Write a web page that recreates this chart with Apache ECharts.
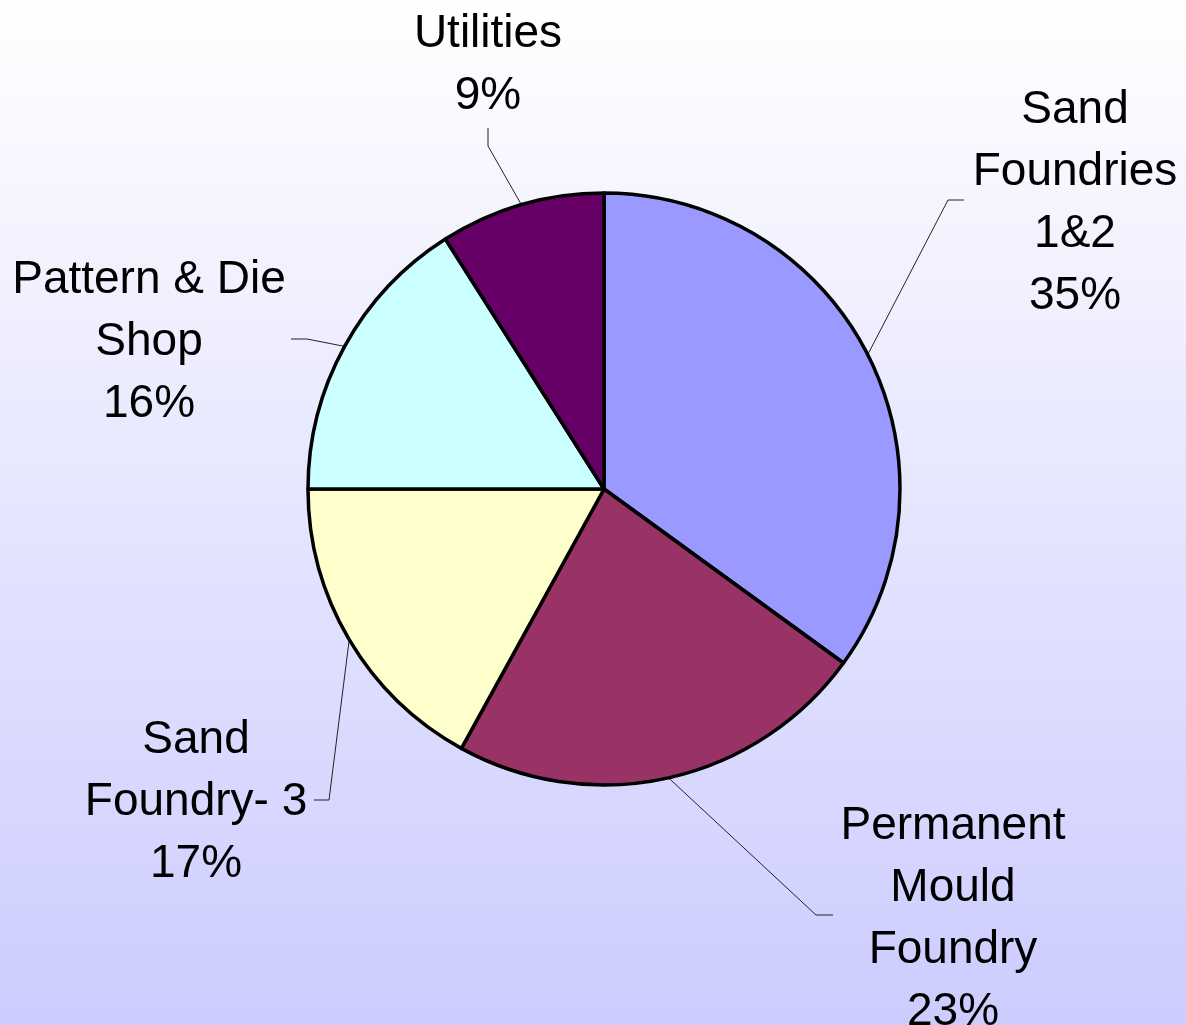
<!DOCTYPE html>
<html>
<head>
<meta charset="utf-8">
<title>Pie</title>
<script src="https://cdn.jsdelivr.net/npm/echarts@6/dist/echarts.min.js"></script>
<style>
  html, body { margin: 0; padding: 0; }
  #main { width: 1186px; height: 1025px; }
</style>
</head>
<body>
<div id="main"></div>
<script>
var categories = ['Sand\nFoundries\n1&2', 'Permanent\nMould\nFoundry', 'Sand\nFoundry- 3', 'Pattern & Die\nShop', 'Utilities'];
var shares = [35, 23, 17, 16, 9];
var colors = ['#9999FF', '#993366', '#FFFFCC', '#CCFFFF', '#660066'];

// where each label sits and how its leader line bends (layout only)
var labelPos = [
    { x: 1075, y: 203, bend: [948, 200], tip: [964, 200] },
    { x: 953,  y: 919, bend: [816, 915], tip: [833, 915] },
    { x: 196,  y: 802, bend: [329, 800], tip: [314, 800] },
    { x: 149,  y: 342, bend: [307, 339], tip: [291, 339] },
    { x: 488,  y: 65,  bend: [488, 146], tip: [488, 128] }
];

var myChart = echarts.init(document.getElementById('main'));

var pieData = categories.map(function (name, i) {
    return { name: name, value: shares[i], itemStyle: { color: colors[i] } };
});

var option = {
    animation: false,
    backgroundColor: {
        type: 'linear', x: 0, y: 0, x2: 0, y2: 1,
        colorStops: [
            { offset: 0, color: '#FFFFFF' },
            { offset: 1, color: '#CCCCFF' }
        ]
    },
    series: [
        {
            type: 'pie',
            center: [604, 489],
            radius: 296,
            startAngle: 90,
            clockwise: true,
            avoidLabelOverlap: false,
            data: pieData,
            itemStyle: {
                borderColor: '#000',
                borderWidth: 3.5
            },
            label: {
                show: true,
                position: 'outside',
                formatter: function (p) {
                    return p.name + '\n' + p.value + '%';
                },
                fontFamily: '"Liberation Sans", Arial, sans-serif',
                fontSize: 46,
                lineHeight: 62,
                color: '#000'
            },
            labelLine: {
                show: true,
                smooth: false,
                lineStyle: { color: '#222', width: 1 }
            },
            emphasis: { disabled: true },
            labelLayout: function (params) {
                var p = labelPos[params.dataIndex];
                var start = params.labelLinePoints ? params.labelLinePoints[0] : p.bend;
                return {
                    x: p.x,
                    y: p.y,
                    align: 'center',
                    verticalAlign: 'middle',
                    labelLinePoints: [start, p.bend, p.tip]
                };
            }
        }
    ]
};

myChart.setOption(option);
</script>
</body>
</html>
